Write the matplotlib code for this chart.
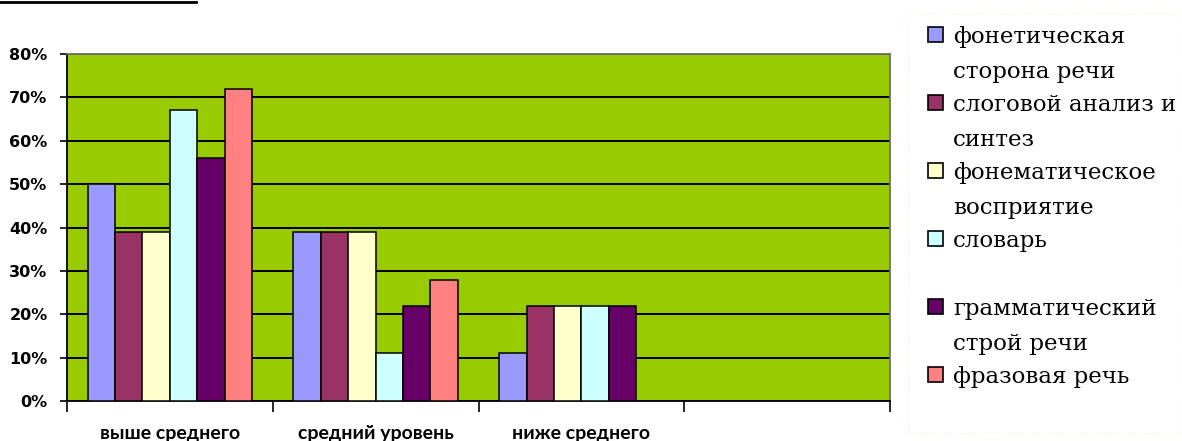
import numpy as np
import matplotlib.pyplot as plt
from matplotlib.patches import Rectangle

# data
categories = ["выше среднего", "средний уровень", "ниже среднего", ""]
series_names = ["фонетическая\nсторона речи",
                "слоговой анализ и\nсинтез",
                "фонематическое\nвосприятие",
                "словарь\n",
                "грамматический\nстрой речи",
                "фразовая речь"]
phonetic = [50, 39, 11]
syllabic = [39, 39, 22]
phonemic = [39, 39, 22]
vocabulary = [67, 11, 22]
grammar = [56, 22, 22]
phrasal = [72, 28, 0]
yticks = [0, 10, 20, 30, 40, 50, 60, 70, 80]
colors = ["#9999FF", "#993366", "#FFFFCC", "#CCFFFF", "#660066", "#FF8080"]

all_series = [phonetic, syllabic, phonemic, vocabulary, grammar, phrasal]

fig = plt.figure(figsize=(11.82, 4.41), dpi=100)
ax = fig.add_axes([67 / 1182, 1 - 401 / 441, (890 - 67) / 1182, (401 - 54) / 441])
ax.set_facecolor("#99CC00")

n = len(all_series)
bw = 1 / 7.5
x = np.arange(len(phonetic)) + 0.5
for i, (vals, col) in enumerate(zip(all_series, colors)):
    ax.bar(x + (i - (n - 1) / 2) * bw, vals, width=bw, color=col,
           edgecolor="black", linewidth=1.1, zorder=3)

ax.set_xlim(0, 4)
ax.set_ylim(0, 80)
ax.set_yticks(yticks)
ax.set_yticklabels([f"{v}%" for v in yticks], fontsize=11.5,
                   fontweight="bold", family="DejaVu Sans")
ax.grid(axis="y", color="black", linewidth=1.4, zorder=1)
ax.set_axisbelow(True)

ax.set_xticks(np.arange(0, 5))
ax.set_xticklabels([])
ax.set_xticks(np.arange(4) + 0.5, minor=True)
ax.set_xticklabels(categories, minor=True, fontsize=14, fontweight="bold",
                   family="Lato")
ax.tick_params(axis="x", which="minor", length=0, pad=17)
ax.tick_params(axis="x", which="major", length=8, width=1.2, direction="out")
ax.tick_params(axis="y", length=5, width=1.2, pad=9)

for s in ["left", "bottom"]:
    ax.spines[s].set_color("black")
    ax.spines[s].set_linewidth(1.3)
for s in ["top", "right"]:
    ax.spines[s].set_color("#707070")
    ax.spines[s].set_linewidth(1.3)

# legend drawn by hand so the swatches sit at the top of each two-line label
W, H = 1182, 441
fig.patches.append(Rectangle((908 / W, 1 - 433 / H), (W - 908) / W, 420 / H,
                             transform=fig.transFigure, facecolor="white",
                             edgecolor="#f3f3dc", linestyle=":", linewidth=1))
top = 27
for i, (name, col) in enumerate(zip(series_names, colors)):
    y0 = top + i * 68
    fig.patches.append(Rectangle((928 / W, 1 - (y0 + 15) / H), 15 / W, 15 / H,
                                 transform=fig.transFigure, facecolor=col,
                                 edgecolor="black", linewidth=1.2))
    for k, line in enumerate(name.split("\n")):
        fig.text(953 / W, 1 - (y0 + 16 + k * 35) / H, line,
                 family="DejaVu Serif", fontsize=16.5, va="baseline")

# underline at top-left, left over from the cropped heading
fig.add_artist(plt.Line2D([0, 196 / W], [1 - 1.5 / H, 1 - 1.5 / H],
                          transform=fig.transFigure, color="black", linewidth=2))

fig.savefig("out.png", dpi=100)
